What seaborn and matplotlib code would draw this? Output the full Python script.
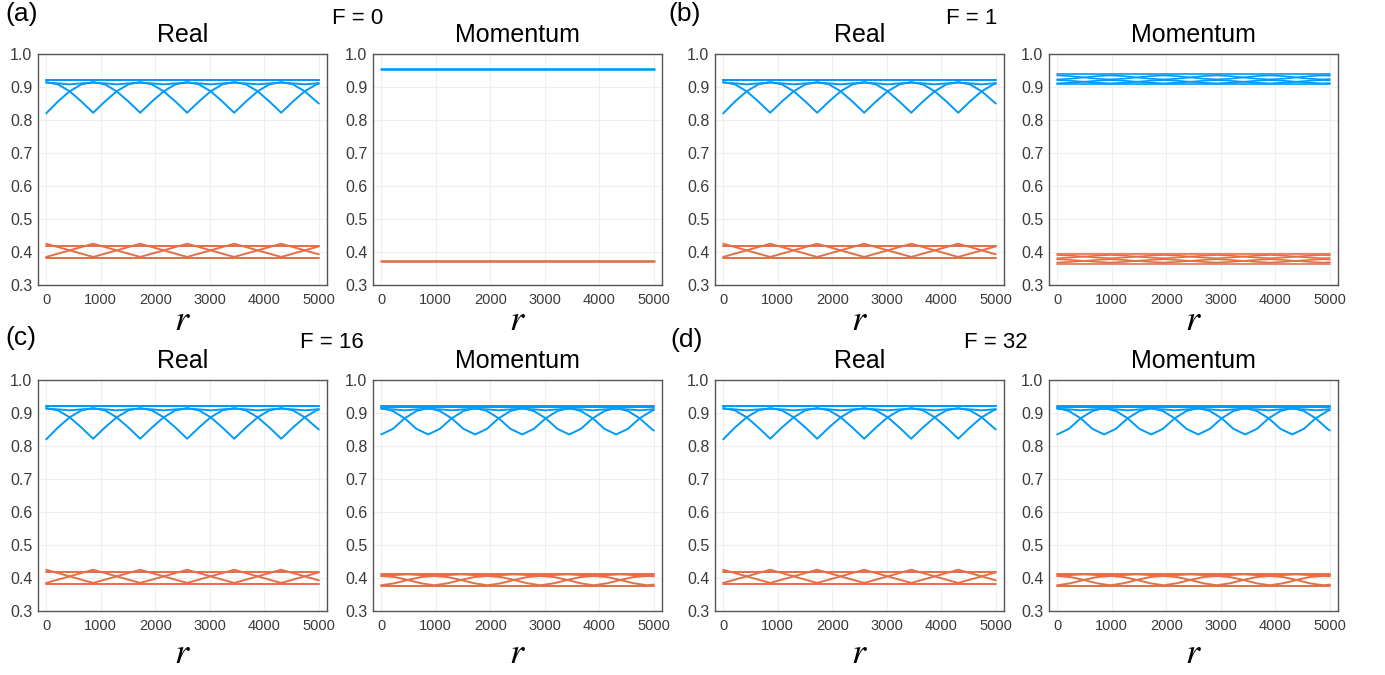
import matplotlib
matplotlib.use("Agg")
import matplotlib.pyplot as plt
import numpy as np
import pandas as pd
import seaborn as sns

# r sample points
r_real = [0, 215, 431, 646, 862, 1077, 1293, 1508, 1724, 1939, 2155, 2370, 2586,
          2801, 3017, 3232, 3448, 3663, 3879, 4094, 4310, 4525, 4741, 4956, 5000]
r_mom = [0, 244, 488, 731, 975, 1219, 1463, 1706, 1950, 2194, 2438, 2681, 2925,
         3169, 3413, 3656, 3900, 4144, 4388, 4631, 4875, 5000]
r_ends = [0, 5000]

# Real space (same in all four F panels)
real_blue_a = [0.820, 0.856, 0.887, 0.908, 0.915, 0.908, 0.887, 0.856, 0.822, 0.856, 0.887, 0.908, 0.915,
               0.908, 0.887, 0.856, 0.822, 0.856, 0.887, 0.908, 0.915, 0.908, 0.887, 0.856, 0.850]
real_blue_b = [0.915, 0.908, 0.887, 0.856, 0.822, 0.856, 0.887, 0.908, 0.915, 0.908, 0.887, 0.856, 0.822,
               0.856, 0.887, 0.908, 0.915, 0.908, 0.887, 0.856, 0.822, 0.856, 0.887, 0.908, 0.910]
real_blue_wig = [0.913, 0.911, 0.908, 0.911, 0.913, 0.911, 0.908, 0.911, 0.913, 0.911, 0.908, 0.911, 0.913,
                 0.911, 0.908, 0.911, 0.913, 0.911, 0.908, 0.911, 0.913, 0.911, 0.908, 0.911, 0.912]
real_blue_flat = [0.922, 0.920]
real_orange_a = [0.385, 0.395, 0.405, 0.415, 0.425, 0.415, 0.405, 0.395, 0.385, 0.395, 0.405, 0.415, 0.425,
                 0.415, 0.405, 0.395, 0.385, 0.395, 0.405, 0.415, 0.425, 0.415, 0.405, 0.395, 0.393]
real_orange_b = [0.425, 0.415, 0.405, 0.395, 0.385, 0.395, 0.405, 0.415, 0.425, 0.415, 0.405, 0.395, 0.385,
                 0.395, 0.405, 0.415, 0.425, 0.415, 0.405, 0.395, 0.385, 0.395, 0.405, 0.415, 0.417]
real_orange_flat = [0.418, 0.383]

# Momentum space, F = 0
mom0_blue_flat = [0.955]
mom0_orange_flat = [0.372]

# Momentum space, F = 1
mom1_blue_p1 = [0.935, 0.933, 0.929, 0.925, 0.923, 0.925, 0.929, 0.933, 0.935, 0.933, 0.929,
                0.925, 0.923, 0.925, 0.929, 0.933, 0.935, 0.933, 0.929, 0.925, 0.923, 0.924]
mom1_blue_p2 = [0.923, 0.925, 0.929, 0.933, 0.935, 0.933, 0.929, 0.925, 0.923, 0.925, 0.929,
                0.933, 0.935, 0.933, 0.929, 0.925, 0.923, 0.925, 0.929, 0.933, 0.935, 0.934]
mom1_blue_p3 = [0.921, 0.919, 0.916, 0.913, 0.911, 0.913, 0.916, 0.919, 0.921, 0.919, 0.916,
                0.913, 0.911, 0.913, 0.916, 0.919, 0.921, 0.919, 0.916, 0.913, 0.911, 0.912]
mom1_blue_p4 = [0.911, 0.913, 0.916, 0.919, 0.921, 0.919, 0.916, 0.913, 0.911, 0.913, 0.916,
                0.919, 0.921, 0.919, 0.916, 0.913, 0.911, 0.913, 0.916, 0.919, 0.921, 0.920]
mom1_blue_flat = [0.939, 0.909]
mom1_orange_p1 = [0.391, 0.389, 0.386, 0.383, 0.381, 0.383, 0.386, 0.389, 0.391, 0.389, 0.386,
                  0.383, 0.381, 0.383, 0.386, 0.389, 0.391, 0.389, 0.386, 0.383, 0.381, 0.382]
mom1_orange_p2 = [0.381, 0.383, 0.386, 0.389, 0.391, 0.389, 0.386, 0.383, 0.381, 0.383, 0.386,
                  0.389, 0.391, 0.389, 0.386, 0.383, 0.381, 0.383, 0.386, 0.389, 0.391, 0.390]
mom1_orange_p3 = [0.378, 0.376, 0.373, 0.370, 0.368, 0.370, 0.373, 0.376, 0.378, 0.376, 0.373,
                  0.370, 0.368, 0.370, 0.373, 0.376, 0.378, 0.376, 0.373, 0.370, 0.368, 0.369]
mom1_orange_p4 = [0.368, 0.370, 0.373, 0.376, 0.378, 0.376, 0.373, 0.370, 0.368, 0.370, 0.373,
                  0.376, 0.378, 0.376, 0.373, 0.370, 0.368, 0.370, 0.373, 0.376, 0.378, 0.377]
mom1_orange_flat = [0.394, 0.365]

# Momentum space, F = 16 and F = 32 (look the same)
mom16_blue_a = [0.835, 0.852, 0.884, 0.906, 0.915, 0.906, 0.884, 0.852, 0.835, 0.852, 0.884, 0.906, 0.915,
                0.906, 0.884, 0.852, 0.835, 0.852, 0.884, 0.906, 0.915, 0.906, 0.884, 0.852, 0.847]
mom16_blue_b = [0.915, 0.906, 0.884, 0.852, 0.835, 0.852, 0.884, 0.906, 0.915, 0.906, 0.884, 0.852, 0.835,
                0.852, 0.884, 0.906, 0.915, 0.906, 0.884, 0.852, 0.835, 0.852, 0.884, 0.906, 0.909]
mom16_blue_flat = [0.921, 0.918]
mom16_orange_a = [0.406, 0.403, 0.394, 0.384, 0.378, 0.384, 0.394, 0.403, 0.406, 0.403, 0.394,
                  0.384, 0.378, 0.384, 0.394, 0.403, 0.406, 0.403, 0.394, 0.384, 0.378, 0.380]
mom16_orange_b = [0.378, 0.384, 0.394, 0.403, 0.406, 0.403, 0.394, 0.384, 0.378, 0.384, 0.394,
                  0.403, 0.406, 0.403, 0.394, 0.384, 0.378, 0.384, 0.394, 0.403, 0.406, 0.405]
mom16_orange_wig = [0.406, 0.409, 0.411, 0.409, 0.406, 0.409, 0.411, 0.409, 0.406, 0.409, 0.411,
                    0.409, 0.406, 0.409, 0.411, 0.409, 0.406, 0.409, 0.411, 0.409, 0.406, 0.408]
mom16_orange_flat = [0.412, 0.377]

titles = ["Real", "Momentum"]
panel_labels = ["(a)", "(b)", "(c)", "(d)"]
f_labels = ["F = 0", "F = 1", "F = 16", "F = 32"]

BLUE = "#009AFA"
ORANGE = "#E36F47"


def curves(*pairs):
    rows = []
    for i, (r, v) in enumerate(pairs):
        for x, y in zip(r, v):
            rows.append({"r": x, "v": y, "curve": i})
    return pd.DataFrame(rows)


def flats(levels):
    return [(r_ends, [lv, lv]) for lv in levels]


real_blue = curves((r_real, real_blue_a), (r_real, real_blue_b), (r_real, real_blue_wig), *flats(real_blue_flat))
real_orange = curves((r_real, real_orange_a), (r_real, real_orange_b), *flats(real_orange_flat))
mom0_blue = curves(*flats(mom0_blue_flat))
mom0_orange = curves(*flats(mom0_orange_flat))
mom1_blue = curves((r_mom, mom1_blue_p1), (r_mom, mom1_blue_p2), (r_mom, mom1_blue_p3),
                   (r_mom, mom1_blue_p4), *flats(mom1_blue_flat))
mom1_orange = curves((r_mom, mom1_orange_p1), (r_mom, mom1_orange_p2), (r_mom, mom1_orange_p3),
                     (r_mom, mom1_orange_p4), *flats(mom1_orange_flat))
mom16_blue = curves((r_real, mom16_blue_a), (r_real, mom16_blue_b), (r_real, real_blue_wig),
                    *flats(mom16_blue_flat))
mom16_orange = curves((r_mom, mom16_orange_a), (r_mom, mom16_orange_b), (r_mom, mom16_orange_wig),
                      *flats(mom16_orange_flat))

panels = [
    [(real_blue, real_orange, 1.4), (mom0_blue, mom0_orange, 1.9)],
    [(real_blue, real_orange, 1.4), (mom1_blue, mom1_orange, 1.2)],
    [(real_blue, real_orange, 1.4), (mom16_blue, mom16_orange, 1.4)],
    [(real_blue, real_orange, 1.4), (mom16_blue, mom16_orange, 1.4)],
]

sns.set_style("white")
plt.rcParams["font.family"] = ["Liberation Sans", "DejaVu Sans"]
plt.rcParams["mathtext.fontset"] = "stix"

fig = plt.figure(figsize=(13.85, 6.75), dpi=100)

W, H = 1385, 675
col_left = [38, 373, 715, 1049]
row_top = [54, 380]
row_labelpad = [-3, 2]
ax_w, ax_h = 289, 231

# panel (a),(b) top row; (c),(d) bottom row; each panel has Real + Momentum
for p in range(4):
    row = p // 2
    for k in range(2):
        col = (p % 2) * 2 + k
        left = col_left[col] / W
        bottom = 1 - (row_top[row] + ax_h) / H
        ax = fig.add_axes([left, bottom, ax_w / W, ax_h / H])
        dblue, dorange, lw = panels[p][k]
        sns.lineplot(data=dblue, x="r", y="v", units="curve", estimator=None,
                     color=BLUE, lw=lw, ax=ax, legend=False)
        sns.lineplot(data=dorange, x="r", y="v", units="curve", estimator=None,
                     color=ORANGE, lw=lw, ax=ax, legend=False)
        ax.set_xlim(-150, 5150)
        ax.set_ylim(0.3, 1.0)
        ax.set_xticks([0, 1000, 2000, 3000, 4000, 5000])
        ax.set_yticks(np.arange(0.3, 1.01, 0.1))
        ax.set_yticklabels([f"{t:.1f}" for t in np.arange(0.3, 1.01, 0.1)])
        ax.grid(True, color="#efefef", lw=0.8)
        ax.tick_params(direction="in", length=3, colors="#3a3a3a")
        ax.tick_params(axis="x", labelsize=10.5, pad=6)
        ax.tick_params(axis="y", labelsize=11.5, pad=4)
        for s in ax.spines.values():
            s.set_color("#555555")
            s.set_linewidth(1.0)
        ax.set_ylabel("")
        ax.set_xlabel("$r$", fontsize=26, labelpad=row_labelpad[row], color="black")
        ax.set_title(titles[k], fontsize=18, pad=9, color="black")

# panel letters and F values
label_pos = [(5, 2), (668, 2), (5, 326), (670, 328)]
f_pos = [(332, 8), (946, 8), (300, 332), (964, 332)]
for p in range(4):
    x, y = label_pos[p]
    fig.text(x / W, 1 - y / H, panel_labels[p], fontsize=19, va="top", ha="left", color="black")
    x, y = f_pos[p]
    fig.text(x / W, 1 - y / H, f_labels[p], fontsize=16, va="top", ha="left", color="black")

fig.savefig("out.png", dpi=100)
